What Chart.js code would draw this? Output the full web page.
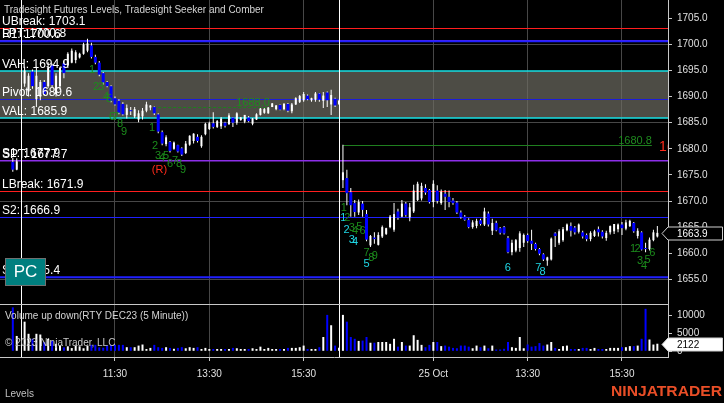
<!DOCTYPE html>
<html><head><meta charset="utf-8">
<script src="https://cdn.jsdelivr.net/npm/chart.js@4.4.1/dist/chart.umd.min.js"></script>
<style>
html,body{margin:0;padding:0;background:#000;overflow:hidden;}
#wrap{position:relative;width:724px;height:403px;background:#000;}
#cMain{position:absolute;left:0;top:0;}
#cVol{position:absolute;left:0;top:304px;}
</style></head><body>
<div id="wrap">
<canvas id="cMain" width="724" height="304"></canvas>
<canvas id="cVol" width="724" height="99"></canvas>
</div>
<script>
// ---------------- DATA ----------------
const firstBar = -3; // bar index of first entry (null = no bar)
const opens = [1677.5,1676.0,null,
1692.5,1691.0,1694.8,1689.5,1690.0,1692.8,1692.0,1696.0,1690.5,1692.0,
1696.4,1696.0,1696.5,1697.0,1697.5,1698.2,1698.8,1699.8,1697.6,1696.5,
1694.5,1692.8,1692.0,1689.7,1689.2,1688.6,1686.5,1687.4,1686.2,1685.6,
1686.2,1687.3,1687.9,1688.0,1686.6,1683.2,1680.9,1681.3,1680.0,1680.7,
1680.1,1679.2,1680.8,1681.5,1682.3,1680.5,1682.8,1683.8,1684.9,1684.2,
1684.3,1685.0,1684.7,1686.0,1685.0,1685.5,1685.2,1686.0,1684.8,1685.6,
1686.5,1686.9,1686.8,1688.0,1687.6,1688.4,1687.6,1688.6,1687.2,1688.5,
1689.0,1689.3,1690.2,1689.3,1689.4,1690.6,1689.2,1690.8,1688.5,1689.6,
1688.6,
1674.0,1674.4,1671.7,1669.6,1667.8,1669.5,1667.5,1661.5,1663.0,1661.6,
1663.2,1663.7,1665.0,1664.5,1668.0,1667.0,1669.5,1666.9,1668.0,1670.2,
1670.5,1672.5,1672.1,1669.8,1672.0,1669.6,1671.4,1670.8,1670.1,1669.7,
1667.8,1667.0,1666.4,1665.0,1665.2,1666.3,1665.5,1667.6,1664.3,1665.8,
1664.8,1665.0,1662.9,1660.2,1660.5,1661.0,1662.0,1663.5,1662.4,1661.8,
1660.8,1659.8,1658.6,1658.8,1663.8,1662.0,1662.5,1664.4,1665.2,1664.9,
1664.1,1664.0,1663.5,1662.7,1663.3,1664.6,1664.1,1662.9,1664.0,1664.2,
1664.6,1665.5,1664.7,1665.2,1665.8,1663.3,1664.0,1661.0,1660.8,1662.5,
1663.2];
const highs = [1678.3,1678.2,null,
1695.7,1694.5,1695.2,1695.7,1693.2,1693.2,1696.6,1696.3,1694.5,1695.7,
1696.8,1698.5,1699.2,1698.9,1698.4,1700.3,1701.1,1700.3,1698.0,1696.8,
1694.7,1693.0,1692.2,1690.0,1689.5,1688.9,1688.5,1688.0,1688.0,1687.4,
1687.8,1689.0,1688.4,1688.1,1686.8,1683.5,1682.6,1681.5,1681.4,1680.8,
1680.3,1681.5,1682.6,1683.0,1682.8,1682.6,1685.0,1685.2,1687.0,1685.5,
1686.1,1685.2,1686.8,1686.1,1687.0,1686.1,1686.5,1686.3,1685.9,1686.8,
1687.8,1687.8,1688.0,1688.8,1688.4,1688.5,1688.8,1688.8,1688.8,1689.9,
1690.3,1690.9,1690.4,1689.8,1690.9,1690.7,1690.9,1691.0,1691.3,1689.8,
1689.4,
1680.8,1676.0,1672.5,1670.2,1670.3,1670.0,1668.3,1663.5,1664.0,1664.0,
1665.3,1664.9,1667.3,1669.6,1668.5,1670.2,1669.8,1669.6,1673.1,1673.7,
1673.5,1673.2,1672.3,1674.0,1673.0,1672.2,1672.1,1672.0,1670.6,1670.0,
1668.2,1667.3,1666.7,1666.3,1666.6,1666.6,1668.7,1668.0,1666.6,1666.2,
1665.0,1665.2,1663.3,1662.6,1662.7,1664.2,1663.8,1663.8,1664.5,1662.0,
1661.0,1660.0,1659.3,1663.0,1664.0,1664.6,1665.0,1665.7,1665.9,1665.2,
1665.7,1664.3,1663.8,1664.2,1664.5,1665.1,1664.4,1664.3,1665.3,1665.6,
1665.7,1666.0,1666.4,1666.4,1666.0,1664.8,1664.2,1662.0,1663.0,1664.5,
1665.2];
const lows = [1675.6,1675.9,null,
1691.9,1690.0,1691.5,1688.0,1689.3,1690.3,1691.7,1691.8,1690.0,1691.3,
1693.5,1695.5,1696.4,1696.4,1697.3,1698.0,1698.5,1697.3,1696.2,1693.9,
1692.3,1691.8,1688.9,1688.3,1686.6,1686.4,1685.8,1686.5,1685.9,1685.1,
1685.6,1687.0,1687.4,1686.5,1683.0,1680.7,1680.5,1679.3,1679.8,1679.3,
1678.6,1679.0,1680.6,1681.0,1681.2,1680.2,1682.6,1683.6,1683.9,1684.0,
1683.8,1684.1,1684.6,1684.2,1684.6,1685.4,1684.9,1685.1,1684.5,1685.5,
1686.4,1686.7,1686.7,1688.0,1687.4,1687.4,1687.4,1687.0,1686.8,1688.4,
1688.8,1689.0,1689.3,1689.0,1689.0,1689.0,1687.8,1688.0,1686.5,1688.0,
1688.4,
1672.5,1669.2,1667.0,1667.0,1667.3,1667.0,1662.3,1661.2,1661.8,1661.5,
1662.9,1663.5,1664.8,1664.1,1666.4,1666.9,1667.0,1666.1,1667.7,1670.0,
1670.1,1671.2,1669.5,1668.8,1669.5,1669.3,1668.3,1668.8,1669.3,1667.5,
1666.6,1666.2,1664.8,1664.7,1664.8,1665.3,1665.2,1665.1,1663.5,1664.2,
1663.6,1663.6,1660.0,1659.6,1660.2,1660.3,1661.2,1662.0,1660.6,1660.5,
1659.6,1658.5,1657.6,1658.6,1661.2,1661.6,1662.2,1664.2,1663.2,1663.6,
1663.8,1662.8,1662.3,1662.3,1663.1,1663.2,1662.8,1662.4,1663.6,1663.7,
1664.0,1663.5,1664.4,1665.0,1663.9,1662.8,1660.5,1660.2,1660.5,1662.3,
1663.0];
const closes = [1676.0,1677.6,null,
1695.0,1694.0,1692.0,1694.0,1692.8,1690.5,1695.5,1692.2,1694.0,1695.5,
1694.5,1698.2,1698.8,1698.5,1698.2,1700.0,1700.2,1697.6,1696.5,1694.2,
1692.7,1692.0,1689.2,1688.5,1686.9,1686.6,1687.8,1687.2,1687.6,1686.8,
1687.3,1688.5,1688.3,1686.8,1683.3,1681.0,1682.2,1679.6,1681.2,1679.5,
1678.9,1681.0,1682.5,1682.9,1681.5,1682.3,1684.8,1684.9,1684.2,1685.3,
1685.8,1684.4,1686.4,1685.0,1686.8,1686.0,1686.5,1685.3,1685.8,1686.6,
1687.7,1687.6,1687.9,1688.7,1688.3,1687.5,1688.6,1687.3,1688.5,1689.7,
1690.1,1690.5,1689.5,1689.7,1690.6,1689.4,1690.2,1689.3,1690.3,1688.3,
1689.2,
1675.5,1671.5,1669.2,1667.9,1669.8,1668.3,1662.6,1663.3,1662.7,1663.5,
1665.0,1664.8,1667.0,1667.5,1666.8,1669.5,1667.3,1668.8,1672.0,1673.3,
1672.9,1671.6,1669.8,1673.3,1670.0,1671.8,1670.8,1669.8,1669.6,1667.8,
1666.9,1666.4,1665.0,1665.9,1666.2,1665.6,1668.0,1665.5,1665.8,1664.4,
1663.9,1663.8,1660.2,1662.0,1662.5,1663.8,1663.5,1662.3,1661.8,1660.8,
1659.9,1658.8,1659.2,1662.8,1663.3,1664.2,1664.6,1665.5,1664.3,1664.0,
1665.5,1663.2,1662.7,1663.9,1664.2,1664.0,1663.2,1663.9,1665.2,1665.6,
1665.5,1664.8,1665.9,1666.2,1664.2,1664.3,1660.7,1660.8,1662.6,1664.0,
1663.9];
const volumes = [12300,4300,null,
8300,4900,3500,4900,4700,2600,3500,3000,2100,1600,
1100,1400,900,1600,1400,850,1600,1800,1800,1100,
1000,1600,1800,1800,1800,1800,1150,1150,1150,1600,
1900,650,950,1800,1150,950,1150,950,700,950,
1150,850,1150,950,1150,650,950,650,650,650,
650,650,650,950,850,650,650,650,850,650,
1300,650,950,650,650,650,650,950,950,950,
1150,1600,650,650,650,1150,4000,10200,7300,1600,
1000,
10200,8300,4000,3500,2900,3000,4000,2400,2400,2600,
2600,2600,2100,3500,1300,2600,1600,1600,4500,3200,
1800,1150,1800,2600,2600,1450,1600,1300,950,850,
1600,1600,1300,850,1600,1150,1600,850,1600,500,
500,700,2600,1150,950,4000,850,1900,1300,1450,
2300,1600,1900,2600,950,650,1450,1600,650,650,
650,950,950,650,950,650,650,650,950,950,
950,1150,1150,1450,1450,1600,3500,11900,3300,1900,
2122];

// price levels
const levelNames  = ['UBreak','LPT','R1','VAH','Pivot','VAL','S1','SPT','LBreak','S2','S3'];
const levelValues = [1703.1, 1700.8, 1700.6, 1694.9, 1689.6, 1685.9, 1677.9, 1677.7, 1671.9, 1666.9, 1655.4];

// axis ticks
const priceTicks = [1655,1660,1665,1670,1675,1680,1685,1690,1695,1700,1705];
const volTicks = [0,5000,10000];
const timeTickBars = [23,47,71,104,128,152];
const timeTickLabels = ['11:30','13:30','15:30','25 Oct','13:30','15:30'];
const sessionBreaks = [-0.9, 80.1];

// swing marks (day 1 dashed, day 2 solid)
const swingLevels = [1688.0, 1680.8];
const swingFrom = [32.7, 81];
const swingTo = [62.4, 159.6];

// count labels: text, bar position, price position, kind
const seqText  = ['1','2','3','4','5','6','7','8','9','1','2','3','4','5','6','7','8','9',
                  '1','1','2','2','3','4','5','6','3','4','7','8','9','5','6','7','8','1','2','6','3','5','4'];
const seqBar   = [17.15,18.17,19.44,20.71,21.47,22.24,23.26,24.27,25.29,32.42,33.18,33.94,34.96,35.98,36.99,38.27,39.28,40.30,
                  81.19,81.09,82.08,81.95,83.23,84.07,85.14,85.97,83.23,84.07,87.04,88.21,89.1,87.04,122.94,130.68,131.77,154.85,155.95,159.69,156.63,158.49,157.65];
const seqPrice = [1695.10,1691.84,1691.84,1689.92,1689.54,1686.11,1686.11,1684.77,1683.24,1683.95,1680.50,1678.58,1678.20,1678.58,1677.05,1677.63,1677.05,1675.90,
                  1668.75,1666.69,1666.78,1664.50,1664.77,1664.31,1665.08,1664.25,1662.47,1662.20,1660.13,1659.12,1659.41,1657.93,1657.26,1657.11,1656.46,1660.80,1660.80,1660.13,1658.50,1658.70,1657.64];
const seqKind  = ['g','g','g','g','g','g','g','g','g','g','g','g','g','g','g','g','g','g',
                  'g','c','g','c','g','g','g','g','c','c','g','g','g','c','c','c','c','g','g','g','g','g','g'];
const reversalMarks = [{text:'(R)', bar:34.32, price:1675.9}, {text:'1(R)', bar:161.4, price:1680.4}];

// ---------------- STYLE ----------------
const FONT = '"Liberation Sans", Arial, Helvetica, sans-serif';
Chart.defaults.font.family = FONT;
Chart.defaults.font.size = 10;
Chart.defaults.color = '#e0e0e0';
const UP = '#ffffff', DOWN = '#0000ff';
const GRID = '#474747', AXIS = '#c8c8c8';
const levelStyle = {
  UBreak:{color:'#ff1e1e',width:1}, LPT:{color:'#8c2ee8',width:1}, R1:{color:'#2020ff',width:2},
  VAH:{color:'#16e0e6',width:1.5}, Pivot:{color:'#1c1cd8',width:1}, VAL:{color:'#16e0e6',width:1.5},
  S1:{color:'#2020ff',width:1}, SPT:{color:'#8c2ee8',width:1.5}, LBreak:{color:'#ff1e1e',width:1},
  S2:{color:'#2020ff',width:1}, S3:{color:'#2020ff',width:2}
};
const X_MIN = -6.26, X_MAX = 163.71;
const P_MIN = 1650.27, P_MAX = 1708.51;
const V_MIN = -1597, V_MAX = 13249;

// ---------------- BUILD ----------------
const wickData=[], upBody=[], downBody=[], volData=[], volColors=[];
for (let k=0;k<opens.length;k++){
  if (opens[k]===null) continue;
  const i = firstBar + k;
  const o=opens[k], h=highs[k], l=lows[k], c=closes[k];
  const down = c < o;
  wickData.push({x:i, y:[l,h]});
  (down ? downBody : upBody).push({x:i, y:[Math.min(o,c), Math.max(o,c)]});
  volData.push({x:i, y:volumes[k]});
  volColors.push(down ? DOWN : UP);
}
const lastClose = closes[closes.length-1];
const lastVol = volumes[volumes.length-1];

function clipArea(ctx, a){ ctx.beginPath(); ctx.rect(a.left,a.top,a.right-a.left,a.bottom-a.top); ctx.clip(); }
function crisp(v){ return Math.round(v)+0.5; }

function drawMarker(ctx, y, text, fill, textColor, xTip, xBox, xEnd){
  const h = 6.5;
  ctx.beginPath();
  ctx.moveTo(xTip, y); ctx.lineTo(xBox, y-h); ctx.lineTo(xEnd, y-h); ctx.lineTo(xEnd, y+h); ctx.lineTo(xBox, y+h); ctx.closePath();
  ctx.fillStyle = fill; ctx.fill();
  ctx.strokeStyle = '#d0d0d0'; ctx.lineWidth = 1; ctx.stroke();
  ctx.fillStyle = textColor; ctx.font = '10px '+FONT; ctx.textAlign='left'; ctx.textBaseline='middle';
  ctx.fillText(text, xBox+9, y+0.5);
}

const overlayMain = {
  id:'overlayMain',
  beforeDatasetsDraw(chart){
    const {ctx, chartArea:a, scales:{x,y}} = chart;
    ctx.save(); clipArea(ctx,a);
    const vah = levelValues[levelNames.indexOf('VAH')], val = levelValues[levelNames.indexOf('VAL')];
    const yt = y.getPixelForValue(vah), yb = y.getPixelForValue(val);
    ctx.fillStyle = 'rgba(110,108,98,0.70)';
    ctx.fillRect(a.left, yt, a.right-a.left, yb-yt);
    levelValues.forEach((v,k)=>{
      const st = levelStyle[levelNames[k]];
      const yy = st.width===1 ? crisp(y.getPixelForValue(v)) : y.getPixelForValue(v);
      ctx.strokeStyle = st.color; ctx.lineWidth = st.width;
      ctx.beginPath(); ctx.moveTo(a.left,yy); ctx.lineTo(a.right,yy); ctx.stroke();
    });
    swingLevels.forEach((v,k)=>{
      const yy = crisp(y.getPixelForValue(v));
      ctx.strokeStyle = '#1f7f1f'; ctx.lineWidth = 1;
      ctx.setLineDash(k===0 ? [3,2] : []);
      ctx.beginPath(); ctx.moveTo(x.getPixelForValue(swingFrom[k]), yy); ctx.lineTo(x.getPixelForValue(swingTo[k]), yy); ctx.stroke();
    });
    ctx.setLineDash([]);
    sessionBreaks.forEach(b=>{
      const xx = crisp(x.getPixelForValue(b));
      ctx.strokeStyle = '#ffffff'; ctx.lineWidth = 1;
      ctx.beginPath(); ctx.moveTo(xx,a.top); ctx.lineTo(xx,a.bottom); ctx.stroke();
    });
    ctx.restore();
  },
  afterDatasetsDraw(chart){
    const {ctx, chartArea:a, scales:{x,y}} = chart;
    ctx.save(); clipArea(ctx,a);
    ctx.font = '11px '+FONT; ctx.fillStyle = '#1f8a1f'; ctx.textAlign='right'; ctx.textBaseline='alphabetic';
    swingLevels.forEach((v,k)=>{
      ctx.fillText(v.toFixed(1), x.getPixelForValue(swingTo[k]), y.getPixelForValue(v)-1);
    });
    ctx.font = '11px '+FONT; ctx.textAlign='center'; ctx.textBaseline='middle';
    seqText.forEach((t,k)=>{
      ctx.fillStyle = seqKind[k]==='g' ? '#1c8c1c' : '#1fd6e4';
      ctx.fillText(t, x.getPixelForValue(seqBar[k]), y.getPixelForValue(seqPrice[k]));
    });
    reversalMarks.forEach((m,k)=>{
      ctx.fillStyle = '#ff2a1a';
      ctx.font = (k===0?'11px ':'14px ')+FONT;
      ctx.textAlign = k===0 ? 'center' : 'left';
      ctx.fillText(m.text, x.getPixelForValue(m.bar), y.getPixelForValue(m.price));
    });
    ctx.font = '12px '+FONT; ctx.fillStyle = '#ffffff'; ctx.textAlign='left'; ctx.textBaseline='alphabetic';
    levelValues.forEach((v,k)=>{
      ctx.fillText(levelNames[k]+': '+v.toFixed(1), 2, y.getPixelForValue(v)-3);
    });
    ctx.font = '10px '+FONT; ctx.fillStyle = '#d4d4d4'; ctx.textBaseline='middle';
    ctx.fillText('Tradesight Futures Levels, Tradesight Seeker and Comber', 4, 10);
    ctx.fillStyle = '#007f7f'; ctx.fillRect(5.5, 258.5, 40, 27);
    ctx.strokeStyle = '#707070'; ctx.lineWidth = 1; ctx.strokeRect(5.5, 258.5, 40, 27);
    ctx.fillStyle = '#ffffff'; ctx.font = '17px '+FONT; ctx.textAlign='center'; ctx.textBaseline='middle';
    ctx.fillText('PC', 25.5, 272.5);
    ctx.restore();
  },
  afterDraw(chart){
    const {ctx, chartArea:a, scales:{y}} = chart;
    ctx.save();
    const yy = Math.round(y.getPixelForValue(lastClose))+0.5;
    drawMarker(ctx, yy, lastClose.toFixed(1), '#000000', '#ffffff', a.right-6, a.right, 722.5);
    ctx.restore();
  }
};

const overlayVol = {
  id:'overlayVol',
  beforeDatasetsDraw(chart){
    const {ctx, chartArea:a, scales:{x}} = chart;
    ctx.save(); clipArea(ctx,a);
    sessionBreaks.forEach(b=>{
      const xx = crisp(x.getPixelForValue(b));
      ctx.strokeStyle = '#ffffff'; ctx.lineWidth = 1;
      ctx.beginPath(); ctx.moveTo(xx,a.top); ctx.lineTo(xx,a.bottom); ctx.stroke();
    });
    ctx.restore();
  },
  afterDatasetsDraw(chart){
    const {ctx, chartArea:a} = chart;
    ctx.save();
    ctx.strokeStyle = AXIS; ctx.lineWidth = 1;
    ctx.beginPath(); ctx.moveTo(a.left, a.top+0.5); ctx.lineTo(a.right, a.top+0.5); ctx.stroke();
    ctx.font = '10px '+FONT; ctx.textAlign='left'; ctx.textBaseline='middle';
    ctx.fillStyle = '#d4d4d4';
    ctx.fillText('Volume up down(RTY DEC23 (5 Minute))', 5, 12);
    ctx.fillStyle = '#c8c8c8';
    ctx.fillText('\u00A9 2023 NinjaTrader, LLC', 5, 39);
    ctx.restore();
  },
  afterDraw(chart){
    const {ctx, chartArea:a, scales:{y}} = chart;
    ctx.save();
    const yy = Math.round(y.getPixelForValue(lastVol))+0.5;
    drawMarker(ctx, yy, String(lastVol), '#ffffff', '#000000', a.right-6, a.right, 722.5);
    ctx.font = '10px '+FONT; ctx.fillStyle = '#c0c0c0'; ctx.textAlign='left'; ctx.textBaseline='middle';
    ctx.fillText('Levels', 5, 90);
    ctx.font = 'bold 15px '+FONT; ctx.fillStyle = '#e94e27'; ctx.textBaseline='middle';
    const txt = 'NINJATRADER'; const w = ctx.measureText(txt).width;
    ctx.translate(611, 88); ctx.scale(111/w, 1); ctx.fillText(txt, 0, 0);
    ctx.restore();
  }
};

const barCommon = {borderWidth:0, grouped:false, minBarLength:1, inflateAmount:0};
new Chart(document.getElementById('cMain'), {
  type:'bar',
  data:{datasets:[
    Object.assign({label:'Up body', data:upBody, backgroundColor:UP, barThickness:2, maxBarThickness:2, order:0}, barCommon),
    Object.assign({label:'Down body', data:downBody, backgroundColor:DOWN, barThickness:3, maxBarThickness:3, order:0}, barCommon),
    Object.assign({label:'Wick', data:wickData, backgroundColor:'#ffffff', barThickness:1, maxBarThickness:1, order:1}, barCommon)
  ]},
  options:{
    responsive:false, animation:false, events:[],
    layout:{padding:0, autoPadding:false},
    plugins:{legend:{display:false}, tooltip:{enabled:false}},
    scales:{
      x:{type:'linear', min:X_MIN, max:X_MAX, offset:false,
         grid:{offset:false, color:GRID, drawTicks:false},
         border:{display:false}, ticks:{display:false},
         afterBuildTicks:s=>{ s.ticks = timeTickBars.map(v=>({value:v})); },
         afterFit:s=>{ s.height=0; s.paddingLeft=0; s.paddingRight=0; }},
      y:{position:'right', min:P_MIN, max:P_MAX,
         grid:{color:c=>(((c.tick.value-priceTicks[0])%15)===0 ? GRID : 'rgba(0,0,0,0)'), tickColor:AXIS, tickLength:4, drawTicks:true},
         border:{color:AXIS},
         ticks:{color:'#e0e0e0', padding:5, font:{size:10}, autoSkip:false, callback:v=>Number(v).toFixed(1)},
         afterBuildTicks:s=>{ s.ticks = priceTicks.map(v=>({value:v})); },
         afterFit:s=>{ s.width=56; s.paddingTop=0; s.paddingBottom=0; }}
    }
  },
  plugins:[overlayMain]
});

new Chart(document.getElementById('cVol'), {
  type:'bar',
  data:{datasets:[
    {label:'Volume', data:volData, backgroundColor:volColors, borderWidth:0, barThickness:2, maxBarThickness:2, grouped:false, inflateAmount:0}
  ]},
  options:{
    responsive:false, animation:false, events:[],
    layout:{padding:0, autoPadding:false},
    plugins:{legend:{display:false}, tooltip:{enabled:false}},
    scales:{
      x:{type:'linear', min:X_MIN, max:X_MAX, offset:false,
         grid:{offset:false, color:GRID, drawTicks:true, tickLength:4, tickColor:AXIS},
         border:{color:AXIS},
         ticks:{color:'#e0e0e0', padding:7, font:{size:10}, autoSkip:false, maxRotation:0, callback:(v,i)=>timeTickLabels[i]},
         afterBuildTicks:s=>{ s.ticks = timeTickBars.map(v=>({value:v})); },
         afterFit:s=>{ s.height=46; s.paddingLeft=0; s.paddingRight=0; }},
      y:{position:'right', min:V_MIN, max:V_MAX,
         grid:{drawOnChartArea:false, tickColor:AXIS, tickLength:4},
         border:{color:AXIS},
         ticks:{color:'#e0e0e0', padding:5, font:{size:10}, autoSkip:false, callback:v=>String(v)},
         afterBuildTicks:s=>{ s.ticks = volTicks.map(v=>({value:v})); },
         afterFit:s=>{ s.width=56; s.paddingTop=0; s.paddingBottom=0; }}
    }
  },
  plugins:[overlayVol]
});
</script>
</body></html>
